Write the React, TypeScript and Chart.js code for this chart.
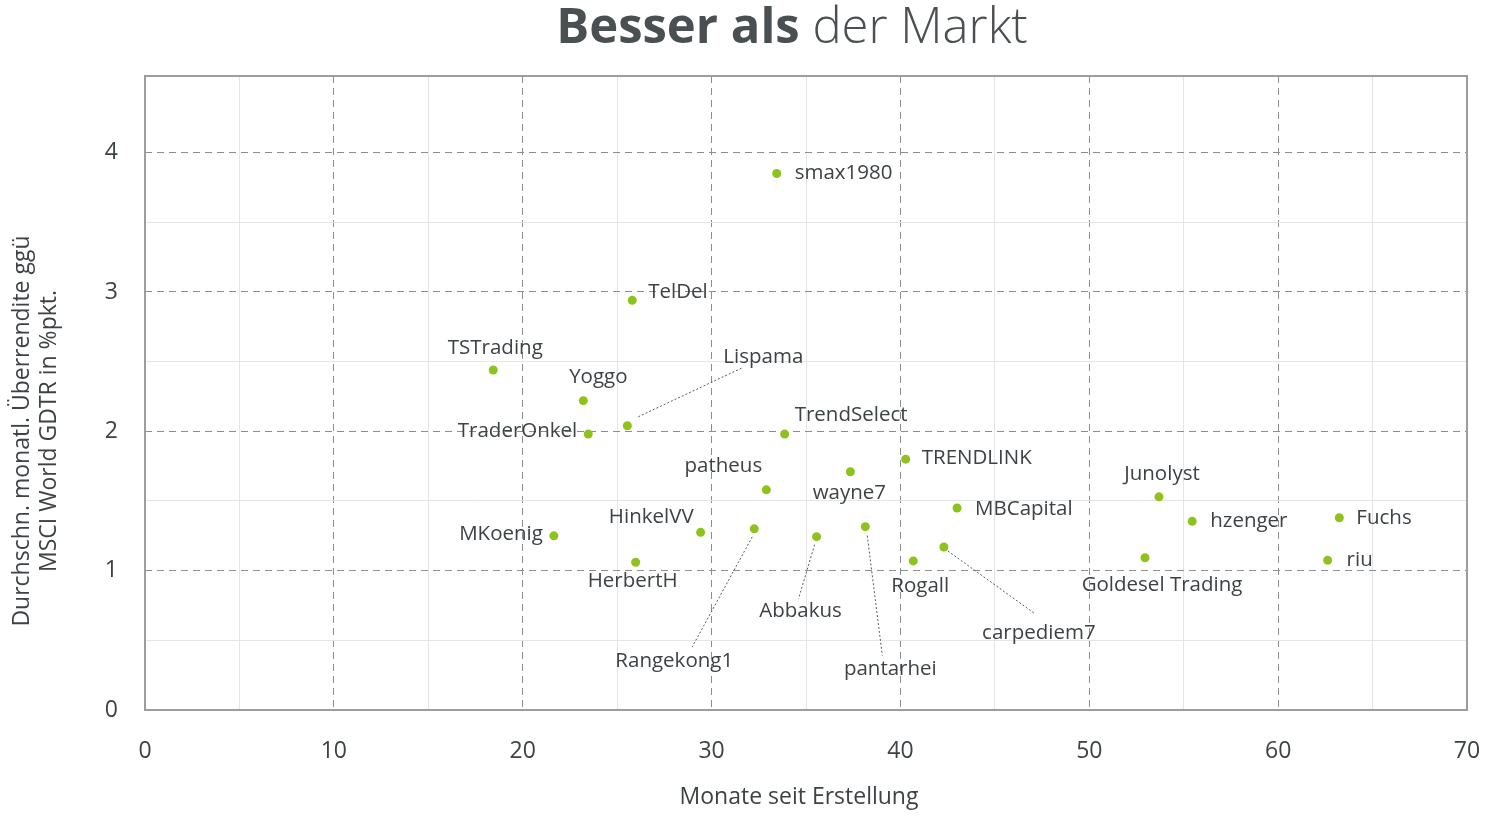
import React, { useEffect, useRef } from "react";
import { Chart, registerables } from "chart.js";

Chart.register(...registerables);

const names = [
  "smax1980", "TelDel", "TSTrading", "Yoggo", "TraderOnkel", "Lispama", "TrendSelect",
  "patheus", "wayne7", "TRENDLINK", "HinkelVV", "Rangekong1", "Abbakus", "pantarhei",
  "HerbertH", "MKoenig", "Rogall", "carpediem7", "MBCapital", "Junolyst", "hzenger",
  "Goldesel Trading", "Fuchs", "riu",
];
const months = [
  33.45, 25.8, 18.44, 23.21, 23.47, 25.54, 33.87,
  32.9, 37.35, 40.28, 29.42, 32.26, 35.56, 38.14,
  25.98, 21.65, 40.68, 42.3, 43.0, 53.69, 55.45,
  52.95, 63.24, 62.62,
];
const excessReturn = [
  3.85, 2.94, 2.44, 2.22, 1.98, 2.04, 1.98,
  1.58, 1.71, 1.8, 1.275, 1.3, 1.244, 1.316,
  1.06, 1.25, 1.07, 1.17, 1.45, 1.53, 1.354,
  1.093, 1.38, 1.074,
];
const xTickValues = [0, 10, 20, 30, 40, 50, 60, 70];
const yTickValues = [0, 1, 2, 3, 4];

// label placement (pixel offsets from the point), kept apart from the data
type Place = { dx: number; dy: number; align: CanvasTextAlign; line?: [number, number, number, number] };
const labelPlacements: Place[] = [
  { dx: 18, dy: 0, align: "left" },
  { dx: 16, dy: -8, align: "left" },
  { dx: 2, dy: -22, align: "center" },
  { dx: 15, dy: -24, align: "center" },
  { dx: -11, dy: -3, align: "right" },
  { dx: 136, dy: -69, align: "center", line: [11, -9, 115, -58] },
  { dx: 10, dy: -19, align: "left" },
  { dx: -43, dy: -24, align: "center" },
  { dx: -1, dy: 21, align: "center" },
  { dx: 16, dy: -1, align: "left" },
  { dx: -7, dy: -15, align: "right" },
  { dx: -80, dy: 132, align: "center", line: [-2, 8, -62, 118] },
  { dx: -16, dy: 74, align: "center", line: [-2, 8, -18, 62] },
  { dx: 25, dy: 143, align: "center", line: [2, 9, 17, 129] },
  { dx: -3, dy: 19, align: "center" },
  { dx: -11, dy: -2, align: "right" },
  { dx: 7, dy: 25, align: "center" },
  { dx: 95, dy: 86, align: "center", line: [4, 4, 90, 66] },
  { dx: 18, dy: 1, align: "left" },
  { dx: 3, dy: -23, align: "center" },
  { dx: 18, dy: 0, align: "left" },
  { dx: 17, dy: 27, align: "center" },
  { dx: 17, dy: 0, align: "left" },
  { dx: 19, dy: 0, align: "left" },
];

const FONT = "'Open Sans', 'Noto Sans', sans-serif";
const TEXT = "#3d4245";
const POINT = "#8ec21c";

const overlayPlugin = {
  id: "overlay",
  afterDatasetsDraw(chart: any) {
    const { ctx, chartArea: a, scales } = chart;
    ctx.save();
    // frame
    ctx.strokeStyle = "#9a9ea1";
    ctx.lineWidth = 2;
    ctx.strokeRect(a.left, a.top, a.right - a.left, a.bottom - a.top);

    // labels
    ctx.font = `20.5px ${FONT}`;
    ctx.fillStyle = TEXT;
    ctx.textBaseline = "middle";
    names.forEach((n, i) => {
      const px = scales.x.getPixelForValue(months[i]);
      const py = scales.y.getPixelForValue(excessReturn[i]);
      const p = labelPlacements[i];
      if (p.line) {
        ctx.save();
        ctx.strokeStyle = "#555a5d";
        ctx.lineWidth = 1;
        ctx.setLineDash([2, 2]);
        ctx.beginPath();
        ctx.moveTo(px + p.line[0], py + p.line[1]);
        ctx.lineTo(px + p.line[2], py + p.line[3]);
        ctx.stroke();
        ctx.restore();
      }
      ctx.textAlign = p.align;
      ctx.fillText(n, px + p.dx, py + p.dy);
    });
    ctx.restore();
  },
  afterDraw(chart: any) {
    const { ctx } = chart;
    ctx.save();
    // title: bold part + light part
    const bold = "Besser als ";
    const light = "der Markt";
    const size = 49;
    ctx.textBaseline = "alphabetic";
    ctx.fillStyle = "#4a4f52";
    ctx.font = `bold ${size}px ${FONT}`;
    const wb = ctx.measureText(bold).width;
    ctx.font = `300 ${size}px ${FONT}`;
    const wl = ctx.measureText(light).width;
    const x0 = 792 - (wb + wl) / 2;
    ctx.textAlign = "left";
    ctx.font = `bold ${size}px ${FONT}`;
    ctx.fillText(bold, x0, 43);
    ctx.font = `300 ${size}px ${FONT}`;
    ctx.fillText(light, x0 + wb, 43);

    // axis titles
    ctx.fillStyle = TEXT;
    ctx.font = `23px ${FONT}`;
    ctx.textAlign = "center";
    ctx.textBaseline = "middle";
    ctx.fillText("Monate seit Erstellung", 799, 797);
    ctx.translate(35, 431);
    ctx.rotate(-Math.PI / 2);
    ctx.fillText("Durchschn. monatl. Überrendite ggü", 0, -13);
    ctx.fillText("MSCI World GDTR in %pkt.", 0, 14);
    ctx.restore();
  },
};

const isMajor = (v: number, list: number[]) => list.some((t) => Math.abs(t - v) < 1e-9);

export default function App() {
  const ref = useRef<HTMLCanvasElement>(null);
  useEffect(() => {
    if (!ref.current) return;
    const chart = new Chart(ref.current, {
      type: "scatter",
      data: {
        datasets: [
          {
            data: months.map((m, i) => ({ x: m, y: excessReturn[i] })),
            backgroundColor: POINT,
            borderWidth: 0,
            pointRadius: 4.5,
          },
        ],
      },
      options: {
        animation: false,
        responsive: false,
        devicePixelRatio: 1,
        layout: { padding: { top: 76, right: 21, left: 0, bottom: 0 } },
        plugins: { legend: { display: false }, tooltip: { enabled: false }, title: { display: false } },
        scales: {
          x: {
            type: "linear",
            min: 0,
            max: 70,
            afterFit: (s: any) => {
              s.height = 106;
              s.paddingLeft = 0;
              s.paddingRight = 0;
            },
            ticks: {
              stepSize: 5,
              padding: 28,
              color: TEXT,
              font: { family: FONT, size: 23 },
              maxRotation: 0,
              autoSkip: false,
              callback: (v: any) => (isMajor(Number(v), xTickValues) ? String(v) : ""),
            },
            grid: {
              drawTicks: false,
              color: (c: any) => (isMajor(c.tick?.value, xTickValues) ? "#8a8e91" : "#e3e5e6"),
              lineWidth: 1,
            },
            border: {
              display: false,
              dash: (c: any) => (isMajor(c.tick?.value, xTickValues) ? [7, 5] : []),
            },
          },
          y: {
            type: "linear",
            min: 0,
            max: 4.55,
            afterFit: (s: any) => {
              s.width = 145;
              s.paddingTop = 0;
              s.paddingBottom = 0;
            },
            ticks: {
              stepSize: 0.5,
              padding: 27,
              color: TEXT,
              font: { family: FONT, size: 23 },
              autoSkip: false,
              callback: (v: any) => (isMajor(Number(v), yTickValues) ? String(v) : ""),
            },
            grid: {
              drawTicks: false,
              color: (c: any) => {
                const v = c.tick?.value;
                if (isMajor(v, yTickValues)) return "#8a8e91";
                if (Math.abs(v * 2 - Math.round(v * 2)) < 1e-9) return "#e3e5e6";
                return "rgba(0,0,0,0)";
              },
              lineWidth: 1,
            },
            border: {
              display: false,
              dash: (c: any) => (isMajor(c.tick?.value, yTickValues) ? [7, 5] : []),
            },
          },
        },
      },
      plugins: [overlayPlugin],
    });
    return () => chart.destroy();
  }, []);
  return (
    <div style={{ position: "absolute", left: 0, top: 0, width: 1488, height: 816, background: "#fff" }}>
      <canvas ref={ref} width={1488} height={816} />
    </div>
  );
}
